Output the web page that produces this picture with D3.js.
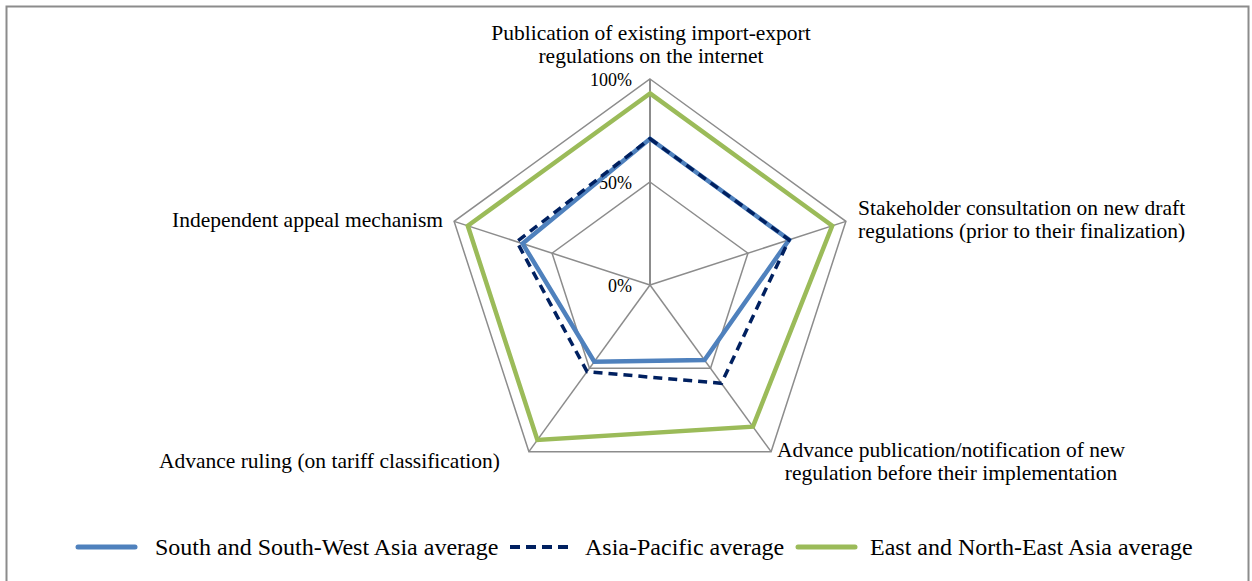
<!DOCTYPE html>
<html><head><meta charset="utf-8">
<script src="https://cdn.jsdelivr.net/npm/d3@7"></script>
<style>body{margin:0;background:#fff}svg{display:block}</style>
</head><body>
<svg id="c" width="1252" height="581"></svg>
<script>
const categories = [
  ["Publication of existing import-export","regulations on the internet"],
  ["Stakeholder consultation on new draft","regulations (prior to their finalization)"],
  ["Advance publication/notification of new","regulation before their implementation"],
  ["Advance ruling (on tariff classification)"],
  ["Independent appeal mechanism"]
];
const seriesNames = ["South and South-West Asia average","Asia-Pacific average","East and North-East Asia average"];
const southAsia = [0.71, 0.71, 0.45, 0.46, 0.65];
const asiaPacific = [0.71, 0.71, 0.59, 0.52, 0.68];
const eastAsia = [0.93, 0.93, 0.85, 0.93, 0.93];
const tickValues = [0, 0.5, 1];
const tickLabels = ["0%", "50%", "100%"];

const FONT = "'Liberation Serif'";
const svg = d3.select("#c");
svg.append("rect").attr("x",6.5).attr("y",6.5).attr("width",1242).attr("height",585)
  .attr("fill","none").attr("stroke","#8c8c8c").attr("stroke-width",2);

const cx = 650, cy = 285, R = 206;
const r = d3.scaleLinear().domain([0,1]).range([0,R]);
const n = categories.length;
const ang = d3.scaleLinear().domain([0,n]).range([0, 2*Math.PI]);
const pt = (i,v) => [cx + r(v)*Math.sin(ang(i)), cy - r(v)*Math.cos(ang(i))];

const g = svg.append("g");
tickValues.filter(t=>t>0).forEach(t=>{
  g.append("path").attr("d", d3.line()(d3.range(n).map(i=>pt(i,t))) + "Z")
    .attr("fill","none").attr("stroke","#8c8c8c").attr("stroke-width",1.5);
});
d3.range(n).forEach(i=>{
  const p = pt(i,1);
  g.append("line").attr("x1",cx).attr("y1",cy).attr("x2",p[0]).attr("y2",p[1])
    .attr("stroke","#8c8c8c").attr("stroke-width",i===0?2:1.5);
});
tickValues.forEach((t,k)=>{
  g.append("text").attr("x",cx-18).attr("y",cy - r(t) + 7).attr("text-anchor","end")
    .style("font-family",FONT).attr("font-size",18).attr("fill","#000").text(tickLabels[k]);
});

const lineGen = d3.line();
const styles = [
  {data: eastAsia, color:"#9BBB59", w:4.5, dash:null},
  {data: southAsia, color:"#4F81BD", w:4.5, dash:null},
  {data: asiaPacific, color:"#002060", w:3.5, dash:"9,6"}
];
styles.forEach(s=>{
  g.append("path").attr("d", lineGen(s.data.map((v,i)=>pt(i,v))) + "Z")
    .attr("fill","none").attr("stroke",s.color).attr("stroke-width",s.w)
    .attr("stroke-dasharray",s.dash).attr("stroke-linejoin","miter");
});

const fs = 21.5;
const labelPos = [
  {x:651, y:40, anchor:"middle"},
  {x:858, y:215, anchor:"start"},
  {x:951, y:457, anchor:"middle"},
  {x:500, y:468, anchor:"end"},
  {x:443, y:227, anchor:"end"}
];
categories.forEach((lines,i)=>{
  const lp = labelPos[i];
  const t = g.append("text").style("font-family",FONT).attr("font-size",fs).attr("fill","#000").attr("text-anchor",lp.anchor);
  lines.forEach((ln,j)=>{
    t.append("tspan").attr("x",lp.x).attr("y",lp.y + j*23).text(ln);
  });
});

const legendItems = [
  {name:seriesNames[0], color:"#4F81BD", w:5, dash:null, x1:78, x2:135, tx:155},
  {name:seriesNames[1], color:"#002060", w:4, dash:"10,6", x1:510, x2:572, tx:585},
  {name:seriesNames[2], color:"#9BBB59", w:5, dash:null, x1:798, x2:855, tx:870}
];
const ly = 547;
legendItems.forEach(it=>{
  svg.append("line").attr("x1",it.x1).attr("x2",it.x2).attr("y1",ly).attr("y2",ly)
    .attr("stroke",it.color).attr("stroke-width",it.w).attr("stroke-dasharray",it.dash)
    .attr("stroke-linecap",it.dash?"butt":"round");
  svg.append("text").attr("x",it.tx).attr("y",ly+8).style("font-family",FONT).attr("font-size",24).attr("fill","#000").text(it.name);
});
</script>
</body></html>
